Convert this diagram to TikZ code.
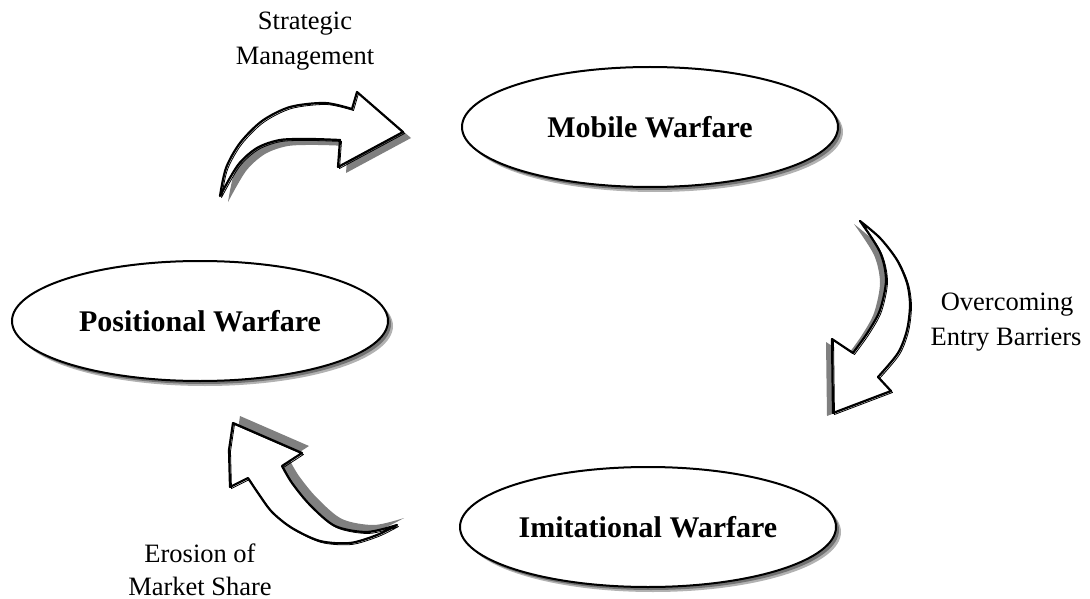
\documentclass[tikz,border=0pt]{standalone}
\usepackage{fontspec}
\setmainfont{Liberation Serif}
\usetikzlibrary{shapes.geometric}
\newcommand\TLpath{plot[smooth] coordinates {(220,196) (226,168) (240,143) (262,121) (290,107) (325,103) (352,109)} -- (357,92) -- (403,132) -- (338,167) -- (340,140) -- plot[smooth] coordinates {(340,140) (310,139) (280,140) (257,148) (238,165) (220,196)} -- cycle}
\newcommand\Rpath{plot[smooth] coordinates {(860,221) (880,238) (897,260) (907,283) (910,305) (907,330) (898,353) (878,377)} -- (891,391) -- (833,413) -- (832,339) -- (853,353) -- plot[smooth] coordinates {(853,353) (868,332) (880,310) (886,280) (880,252) (860,221)} -- cycle}
\newcommand\BLpath{(233,423) -- (302,453) -- (282,466) -- plot[smooth] coordinates {(282,466) (292,483) (310,505) (335,526) (367,532) (397,525)} -- plot[smooth] coordinates {(397,525) (377,535) (350,543) (320,541) (292,528) (272,512) (258,493) (248,478)} -- (230,487) -- (229,450) -- cycle}
\begin{document}
\begin{tikzpicture}[x=1pt,y=-1pt,
  warfare/.style={ellipse, draw=black, line width=2pt, fill=white, minimum width=376pt, minimum height=120pt, inner sep=0pt, font=\fontsize{30}{36}\selectfont\bfseries},
  ellshade/.style={ellipse, fill=black!#1, minimum width=376pt, minimum height=120pt, inner sep=0pt},
  lbl/.style={font=\fontsize{26.5}{33}\selectfont, anchor=base, inner sep=0pt},
  arrowshape/.style={draw=black, line width=2.2pt, fill=white, line join=round},
  arrowsketch/.style={draw=black, line width=0.8pt, line join=round},
  arrowshade/.style={fill=black!50, draw=none}
]
\useasboundingbox (0,0) rectangle (1090,599);

% ellipses with soft shadows
\node[ellshade=30] (mobsh2) at (655,132) {};
\node[ellshade=55] (mobsh) at (653,130) {};
\node[warfare] (mob) at (650,127) {Mobile Warfare};
\node[ellshade=30] (possh2) at (205,326) {};
\node[ellshade=55] (possh) at (203,324) {};
\node[warfare] (pos) at (200,321) {Positional Warfare};
\node[ellshade=30] (imish2) at (653,532) {};
\node[ellshade=55] (imish) at (651,530) {};
\node[warfare] (imi) at (648,527) {Imitational Warfare};

% curved block arrows
\begin{scope}[shift={(8,6)}]
  \fill[arrowshade] \TLpath;
\end{scope}
\draw[arrowshape] \TLpath;
\begin{scope}[shift={(1.5,1.5)}]
  \draw[arrowsketch] \TLpath;
\end{scope}

\begin{scope}[shift={(-6,3)}]
  \fill[arrowshade] \Rpath;
\end{scope}
\draw[arrowshape] \Rpath;
\begin{scope}[shift={(1.5,1.5)}]
  \draw[arrowsketch] \Rpath;
\end{scope}

\begin{scope}[shift={(7,-7)}]
  \fill[arrowshade] \BLpath;
\end{scope}
\draw[arrowshape] \BLpath;
\begin{scope}[shift={(1.5,1.5)}]
  \draw[arrowsketch] \BLpath;
\end{scope}

% labels
\node[lbl] (strat1) at (305,30) {Strategic};
\node[lbl] (strat2) at (305,65) {Management};
\node[lbl] (over1) at (1007,310) {Overcoming};
\node[lbl] (over2) at (1006,345) {Entry Barriers};
\node[lbl] (ero1) at (200,562) {Erosion of};
\node[lbl] (ero2) at (200,595) {Market Share};
\end{tikzpicture}
\end{document}
